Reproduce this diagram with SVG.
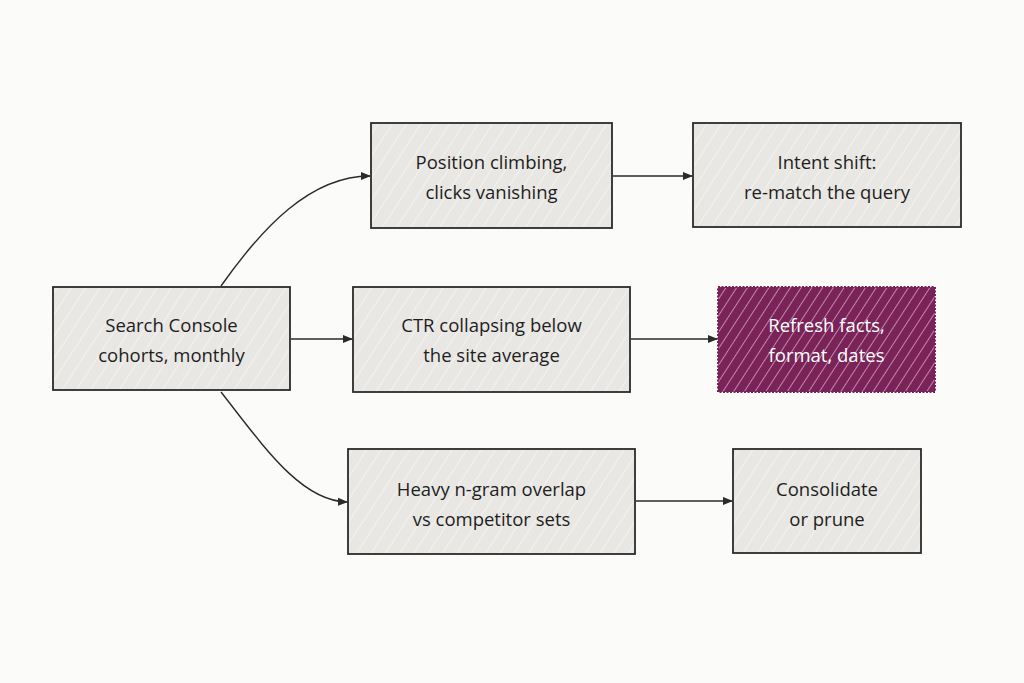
<svg xmlns="http://www.w3.org/2000/svg" width="1024" height="683" viewBox="0 0 1024 683">
  <defs>
    <!-- light diagonal hatching for the grey boxes -->
    <pattern id="hatch" patternUnits="userSpaceOnUse" width="12" height="12" patternTransform="rotate(33)">
      <rect width="12" height="12" fill="#e8e7e3"/>
      <line x1="0" y1="0" x2="0" y2="12" stroke="#ffffff" stroke-width="1.2" opacity="0.8"/>
    </pattern>
    <!-- white hatching on the highlighted box -->
    <pattern id="hatchAccent" patternUnits="userSpaceOnUse" width="9" height="9" patternTransform="rotate(33)">
      <rect width="9" height="9" fill="#7a2359"/>
      <line x1="0" y1="0" x2="0" y2="9" stroke="#f3dbe8" stroke-width="1.3" opacity="0.85"/>
    </pattern>
    <marker id="arrow" viewBox="0 0 10 10" refX="9" refY="5" markerWidth="10" markerHeight="10" markerUnits="userSpaceOnUse" orient="auto">
      <path d="M0,1 L10,5 L0,9 Z" fill="#2b2b2b"/>
    </marker>
  </defs>
  <style>
    .box { fill: url(#hatch); stroke: #2b2b2b; stroke-width: 1.8; }
    .accent { fill: url(#hatchAccent); stroke: #7a2359; stroke-width: 2; stroke-dasharray: 2 1.5; }
    .label { font-family: "Open Sans", "Liberation Sans", sans-serif; font-size: 18.5px; font-weight: 500; fill: #1e1e1e; text-anchor: middle; }
    .label.light { fill: #ffffff; }
    .edge { fill: none; stroke: #2b2b2b; stroke-width: 1.4; marker-end: url(#arrow); }
  </style>

  <rect width="1024" height="683" fill="#fbfbf9"/>

  <g id="connectors">
    <path class="edge" d="M221,286 C262,228 310,176 370,176"/>
    <path class="edge" d="M291,339 L352,339"/>
    <path class="edge" d="M221,392 C262,444 300,501 347,502"/>
    <path class="edge" d="M613,176 L692,176"/>
    <path class="edge" d="M631,339 L717,339"/>
    <path class="edge" d="M636,501 L732,501"/>
  </g>

  <g id="search-console">
    <rect class="box" x="53" y="287" width="237" height="103"/>
    <text class="label" x="171.5" y="332">Search Console</text>
    <text class="label" x="171.5" y="362">cohorts, monthly</text>
  </g>

  <g id="position-climbing">
    <rect class="box" x="371" y="123" width="241" height="105"/>
    <text class="label" x="491.5" y="169">Position climbing,</text>
    <text class="label" x="491.5" y="199">clicks vanishing</text>
  </g>

  <g id="intent-shift">
    <rect class="box" x="693" y="123" width="268" height="104"/>
    <text class="label" x="827" y="169">Intent shift:</text>
    <text class="label" x="827" y="199">re-match the query</text>
  </g>

  <g id="ctr-collapsing">
    <rect class="box" x="353" y="287" width="277" height="105"/>
    <text class="label" x="491.5" y="332">CTR collapsing below</text>
    <text class="label" x="491.5" y="362">the site average</text>
  </g>

  <g id="refresh">
    <rect class="accent" x="718" y="287" width="217" height="105"/>
    <text class="label light" x="826.5" y="332">Refresh facts,</text>
    <text class="label light" x="826.5" y="362">format, dates</text>
  </g>

  <g id="ngram-overlap">
    <rect class="box" x="348" y="449" width="287" height="105"/>
    <text class="label" x="491.5" y="496">Heavy n-gram overlap</text>
    <text class="label" x="491.5" y="526">vs competitor sets</text>
  </g>

  <g id="consolidate">
    <rect class="box" x="733" y="449" width="188" height="104"/>
    <text class="label" x="827" y="496">Consolidate</text>
    <text class="label" x="827" y="526">or prune</text>
  </g>
</svg>
